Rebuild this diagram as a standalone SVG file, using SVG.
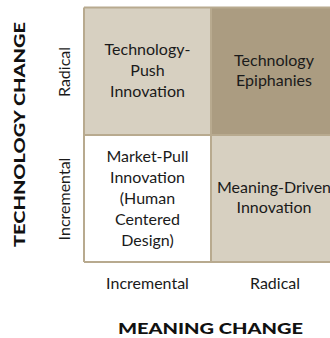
<svg xmlns="http://www.w3.org/2000/svg" width="330" height="338" viewBox="0 0 330 338">
  <style>
    .cell-light { fill: #d7d0c1; }
    .cell-dark { fill: #ab9c81; }
    .cell-white { fill: #ffffff; }
    .grid { stroke: #b8aa8f; stroke-width: 2; fill: none; }
    .lbl { font-family: Lato, "Open Sans", sans-serif; font-size: 16px; fill: #1a1a1a; text-anchor: middle; }
    .axis { font-family: Lato, "Open Sans", sans-serif; font-size: 15px; font-weight: 900; fill: #111; text-anchor: middle; }
  </style>
  <rect width="330" height="338" fill="#ffffff"/>

  <!-- quadrant: radical technology, incremental meaning -->
  <g id="tech-push">
    <rect class="cell-light" x="84" y="7.5" width="127" height="127.5"/>
    <text class="lbl" x="147.5" y="55">Technology-</text>
    <text class="lbl" x="147.5" y="76">Push</text>
    <text class="lbl" x="147.5" y="97">Innovation</text>
  </g>

  <!-- quadrant: radical technology, radical meaning -->
  <g id="tech-epiphanies">
    <rect class="cell-dark" x="211" y="7.5" width="127" height="127.5"/>
    <text class="lbl" x="274" y="66">Technology</text>
    <text class="lbl" x="274" y="86">Epiphanies</text>
  </g>

  <!-- quadrant: incremental technology, incremental meaning -->
  <g id="market-pull">
    <rect class="cell-white" x="84" y="135" width="127" height="127"/>
    <text class="lbl" x="147.5" y="162">Market-Pull</text>
    <text class="lbl" x="147.5" y="183">Innovation</text>
    <text class="lbl" x="147.5" y="204">(Human</text>
    <text class="lbl" x="147.5" y="225">Centered</text>
    <text class="lbl" x="147.5" y="246">Design)</text>
  </g>

  <!-- quadrant: incremental technology, radical meaning -->
  <g id="meaning-driven">
    <rect class="cell-light" x="211" y="135" width="127" height="127"/>
    <text class="lbl" x="274" y="193">Meaning-Driven</text>
    <text class="lbl" x="274" y="213">Innovation</text>
  </g>

  <!-- grid lines -->
  <g id="connectors">
    <line class="grid" x1="84" y1="7.5" x2="338" y2="7.5"/>
    <line class="grid" x1="84" y1="7.5" x2="84" y2="262"/>
    <line class="grid" x1="84" y1="262" x2="338" y2="262"/>
    <line class="grid" x1="211" y1="7.5" x2="211" y2="262"/>
    <line class="grid" x1="84" y1="135" x2="338" y2="135"/>
  </g>

  <!-- axis ticks and titles -->
  <g id="axis-x">
    <text class="lbl" x="147.5" y="289">Incremental</text>
    <text class="lbl" x="275" y="289">Radical</text>
    <text class="axis" x="210.5" y="334" textLength="185" lengthAdjust="spacingAndGlyphs">MEANING CHANGE</text>
  </g>
  <g id="axis-y">
    <text class="lbl" transform="translate(70,72) rotate(-90)">Radical</text>
    <text class="lbl" transform="translate(70,199) rotate(-90)">Incremental</text>
    <text class="axis" transform="translate(25,134.5) rotate(-90)" textLength="225" lengthAdjust="spacingAndGlyphs">TECHNOLOGY CHANGE</text>
  </g>
</svg>
